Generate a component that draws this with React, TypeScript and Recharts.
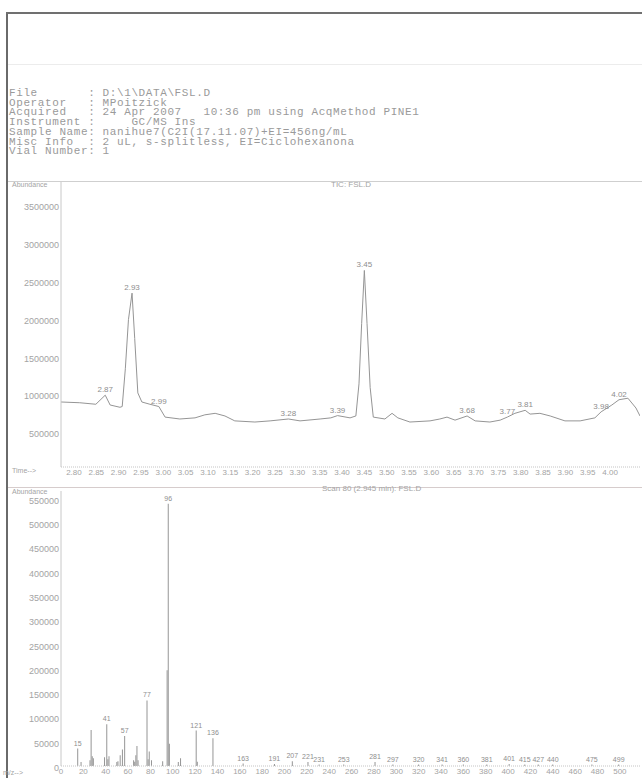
import React from "react";
import { ComposedChart, Line, Bar, XAxis, YAxis, LabelList } from "recharts";

// Instrument header block
const HEADER_LINES = [
  "File       : D:\\1\\DATA\\FSL.D",
  "Operator   : MPoitzick",
  "Acquired   : 24 Apr 2007   10:36 pm using AcqMethod PINE1",
  "Instrument :     GC/MS Ins",
  "Sample Name: nanihue7(C2I(17.11.07)+EI=456ng/mL",
  "Misc Info  : 2 uL, s-splitless, EI=Ciclohexanona",
  "Vial Number: 1",
];

// Total ion chromatogram (retention time in min, abundance)
const TIC_TIME = [
  2.771, 2.813, 2.849, 2.87, 2.881, 2.903, 2.908, 2.915, 2.922, 2.93, 2.936, 2.943,
  2.952, 2.97, 2.99, 3.004, 3.037, 3.071, 3.093, 3.116, 3.138, 3.16, 3.205, 3.239,
  3.28, 3.306, 3.351, 3.375, 3.39, 3.418, 3.431, 3.438, 3.444, 3.45, 3.456, 3.463,
  3.47, 3.496, 3.512, 3.525, 3.552, 3.597, 3.619, 3.635, 3.653, 3.68, 3.698, 3.731,
  3.754, 3.77, 3.787, 3.81, 3.821, 3.843, 3.866, 3.899, 3.933, 3.966, 3.98, 4.004,
  4.02, 4.04, 4.058, 4.067,
];
const TIC_ABUNDANCE = [
  860000, 850000, 830000, 950000, 820000, 790000, 800000, 1300000, 1950000, 2300000, 1700000, 980000,
  860000, 830000, 800000, 660000, 635000, 650000, 690000, 710000, 675000, 610000, 595000, 610000,
  635000, 610000, 635000, 650000, 680000, 650000, 675000, 1100000, 1900000, 2600000, 1900000, 1050000,
  660000, 635000, 710000, 650000, 595000, 610000, 635000, 660000, 620000, 675000, 610000, 595000,
  620000, 660000, 710000, 750000, 700000, 710000, 675000, 610000, 610000, 650000, 730000, 820000,
  890000, 910000, 780000, 675000,
];
const TIC_PEAKS = [2.87, 2.93, 2.99, 3.28, 3.39, 3.45, 3.68, 3.77, 3.81, 3.98, 4.02];
const TIME_TICKS = [
  2.8, 2.85, 2.9, 2.95, 3.0, 3.05, 3.1, 3.15, 3.2, 3.25, 3.3, 3.35, 3.4,
  3.45, 3.5, 3.55, 3.6, 3.65, 3.7, 3.75, 3.8, 3.85, 3.9, 3.95, 4.0,
];
const TIC_TICKS = [500000, 1000000, 1500000, 2000000, 2500000, 3000000, 3500000];

// Mass spectrum of scan 80
const MZ = [
  15, 18, 26, 27, 28, 29, 39, 41, 42, 43, 50, 51, 53, 55, 57, 65, 66, 67, 68, 69,
  77, 78, 79, 81, 91, 95, 96, 97, 105, 107, 121, 122, 136, 163, 191, 207, 221, 231,
  253, 281, 297, 320, 341, 360, 381, 401, 415, 427, 440, 475, 499,
];
const INTENSITY = [
  36000, 8000, 12000, 74000, 20000, 16000, 18000, 86000, 14000, 20000, 8000, 10000, 22000, 34000, 62000, 12000, 9000, 22000, 41000, 12000,
  135000, 14000, 30000, 12000, 10000, 197000, 540000, 46000, 8000, 16000, 73000, 9000, 57000, 5000, 4000, 10000, 8000, 3000,
  3000, 8000, 3000, 3000, 3000, 3000, 3000, 4000, 3000, 3000, 3000, 3000, 3000,
];
const LABELLED_MZ = [
  15, 41, 57, 77, 96, 121, 136, 163, 191, 207, 221, 231, 253, 281, 297, 320, 341, 360,
  381, 401, 415, 427, 440, 475, 499,
];
const MZ_TICKS = [
  0, 20, 40, 60, 80, 100, 120, 140, 160, 180, 200, 220, 240, 260, 280, 300, 320, 340,
  360, 380, 400, 420, 440, 460, 480, 500,
];
const SPEC_TICKS = [0, 50000, 100000, 150000, 200000, 250000, 300000, 350000, 400000, 450000, 500000, 550000];

const ticData = TIC_TIME.map((t, i) => ({
  t,
  a: TIC_ABUNDANCE[i],
  peak: TIC_PEAKS.includes(t) ? t.toFixed(2) : undefined,
}));

const specData = MZ.map((mz, i) => ({
  mz,
  v: INTENSITY[i],
  tag: LABELLED_MZ.includes(mz) ? String(mz) : undefined,
}));

const INK = "#a4a4a4";
const FONT = '"Liberation Sans", Arial, sans-serif';

const yTick = (shift: number) => (props: any) => {
  const { x, y, payload } = props;
  return (
    <text x={x} y={y + shift} textAnchor="end" fontSize={9} fill={INK} fontFamily={FONT}>
      {payload.value}
    </text>
  );
};

const xTick = (fmt: (v: number) => string) => (props: any) => {
  const { x, y, payload } = props;
  return (
    <text x={x} y={y} dy="0.71em" textAnchor="middle" fontSize={8} fill={INK} fontFamily={FONT}>
      {fmt(payload.value)}
    </text>
  );
};

const peakLabel = (size: number) => (props: any) => {
  const { x, y, value, width } = props;
  if (!value) return null;
  const cx = width !== undefined ? x + width / 2 : x;
  return (
    <text x={cx} y={y - 3} textAnchor="middle" fontSize={size} fill="#8e8e8e" fontFamily={FONT}>
      {value}
    </text>
  );
};

const small: React.CSSProperties = {
  position: "absolute",
  fontSize: 8,
  color: INK,
  fontFamily: FONT,
  lineHeight: "9px",
  whiteSpace: "nowrap",
};

export default function App() {
  return (
    <div
      style={{
        position: "absolute",
        left: 0,
        top: 0,
        width: 642,
        height: 778,
        background: "#fff",
        overflow: "hidden",
      }}
    >
      {/* page frame */}
      <div style={{ position: "absolute", left: 6, top: 12, width: 2, height: 766, background: "#6a6a6a" }} />
      <div style={{ position: "absolute", left: 6, top: 12, width: 636, height: 1.5, background: "#707070" }} />
      <div style={{ position: "absolute", left: 8, top: 64, width: 634, height: 1, background: "#ececec" }} />

      <pre
        style={{
          position: "absolute",
          left: 9,
          top: 89,
          margin: 0,
          fontFamily: '"Liberation Mono", "DejaVu Sans Mono", monospace',
          fontSize: 11,
          letterSpacing: 0.6,
          lineHeight: "9.7px",
          color: "#9a9a9a",
        }}
      >
        {HEADER_LINES.join("\n")}
      </pre>

      {/* chromatogram panel */}
      <div style={{ position: "absolute", left: 8, top: 181, width: 634, height: 1, background: "#cfcfcf" }} />
      <div style={{ ...small, left: 12, top: 180, fontSize: 7 }}>Abundance</div>
      <div style={{ ...small, left: 331, top: 180 }}>TIC: FSL.D</div>
      <div style={{ position: "absolute", left: 0, top: 175 }}>
        <ComposedChart width={642} height={304} data={ticData} margin={{ top: 7, right: 2, left: 8, bottom: 2 }}>
          <XAxis
            type="number"
            dataKey="t"
            domain={[2.771, 4.067]}
            ticks={TIME_TICKS}
            allowDataOverflow
            height={10}
            tickLine={false}
            tickSize={2}
            tickMargin={0}
            interval={0}
            axisLine={{ stroke: "#c4c4c4", strokeDasharray: "1 1" }}
            tick={xTick((v) => v.toFixed(2))}
          />
          <YAxis
            type="number"
            domain={[0, 3770000]}
            ticks={TIC_TICKS}
            allowDataOverflow
            width={53}
            tickLine={false}
            tickSize={2}
            tickMargin={0}
            interval={0}
            axisLine={{ stroke: "#c8c8c8" }}
            tick={yTick(8)}
          />
          <Line
            type="linear"
            dataKey="a"
            stroke="#959595"
            strokeWidth={1}
            dot={false}
            isAnimationActive={false}
          >
            <LabelList dataKey="peak" content={peakLabel(8)} />
          </Line>
        </ComposedChart>
      </div>
      <div style={{ ...small, left: 12, top: 466, fontSize: 7 }}>Time--&gt;</div>

      {/* spectrum panel */}
      <div style={{ position: "absolute", left: 8, top: 487, width: 634, height: 1, background: "#d6cccc" }} />
      <div style={{ ...small, left: 12, top: 487, fontSize: 7 }}>Abundance</div>
      <div style={{ ...small, left: 322, top: 484 }}>Scan 80 (2.945 min): FSL.D</div>
      <div style={{ position: "absolute", left: 0, top: 485 }}>
        <ComposedChart width={642} height={293} data={specData} margin={{ top: 6, right: 2, left: 8, bottom: 2 }}>
          <XAxis
            type="number"
            dataKey="mz"
            domain={[0, 518]}
            ticks={MZ_TICKS}
            allowDataOverflow
            height={10}
            tickLine={false}
            tickSize={2}
            tickMargin={0}
            interval={0}
            axisLine={{ stroke: "#c4c4c4", strokeDasharray: "1 1" }}
            tick={xTick((v) => String(v))}
          />
          <YAxis
            type="number"
            domain={[0, 566000]}
            ticks={SPEC_TICKS}
            allowDataOverflow
            width={53}
            tickLine={false}
            tickSize={2}
            tickMargin={0}
            interval={0}
            axisLine={{ stroke: "#c8c8c8" }}
            tick={yTick(5)}
          />
          <Bar dataKey="v" fill="#959595" barSize={1} isAnimationActive={false}>
            <LabelList dataKey="tag" content={peakLabel(7)} />
          </Bar>
        </ComposedChart>
      </div>
      <div style={{ ...small, left: 3, top: 768, fontSize: 7 }}>m/z--&gt;</div>
    </div>
  );
}
